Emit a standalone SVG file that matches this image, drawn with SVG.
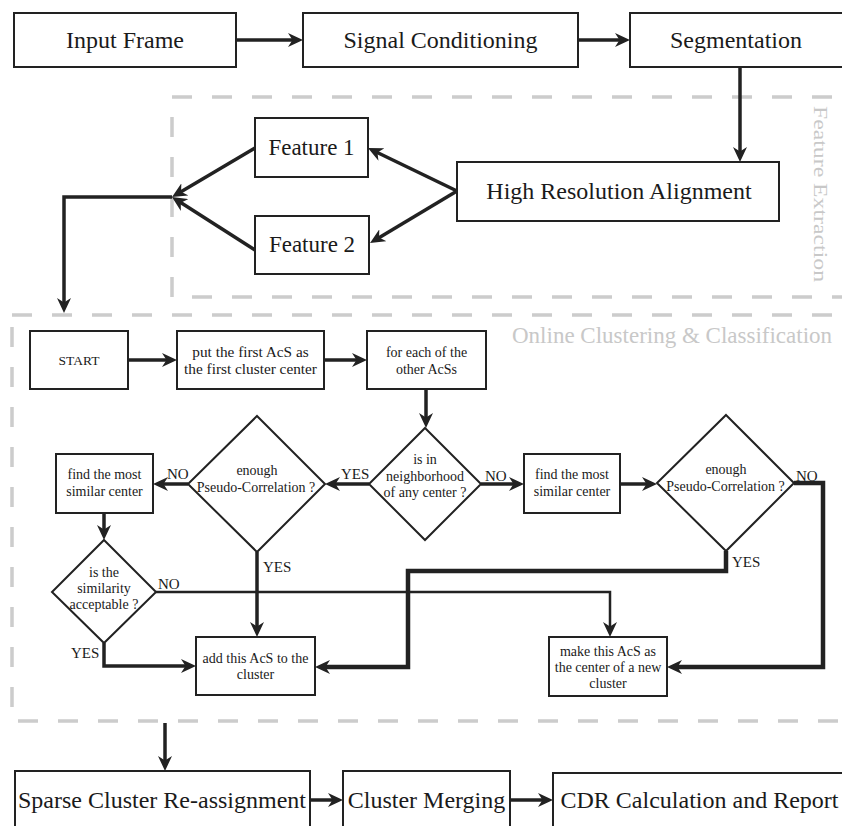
<svg xmlns="http://www.w3.org/2000/svg" width="842" height="826" viewBox="0 0 842 826">
<style>
.bg{fill:#ffffff}
.box{fill:#ffffff;stroke:#222;stroke-width:2}
.dia{fill:#ffffff;stroke:#222;stroke-width:2}
.grp{fill:none;stroke:#cccccc;stroke-width:3.5;stroke-dasharray:20 20}
.glabel{font-family:"Liberation Serif","Times New Roman",serif;fill:#c8c8c8}
.t24{font-family:"Liberation Serif","Times New Roman",serif;font-size:24px;fill:#1a1a1a;text-anchor:middle}
.t23{font-family:"Liberation Serif","Times New Roman",serif;font-size:23px;fill:#1a1a1a;text-anchor:middle}
.t14{font-family:"Liberation Serif","Times New Roman",serif;font-size:14px;fill:#1a1a1a;text-anchor:middle}
.t13{font-family:"Liberation Serif","Times New Roman",serif;font-size:13.5px;fill:#1a1a1a;text-anchor:middle}
.t15{font-family:"Liberation Serif","Times New Roman",serif;font-size:15.3px;fill:#1a1a1a;text-anchor:middle}
.lab{font-family:"Liberation Serif","Times New Roman",serif;font-size:15px;fill:#1a1a1a}
.c{fill:none;stroke:#222;stroke-width:3.5;marker-end:url(#ah)}
.cw{fill:none;stroke:#222;stroke-width:4.5;marker-end:url(#ah)}
.cn{fill:none;stroke:#222;stroke-width:2.5;marker-end:url(#ah)}
</style>
<defs>
<marker id="ah" markerUnits="userSpaceOnUse" markerWidth="16" markerHeight="14" viewBox="0 0 16 14" refX="7" refY="7" orient="auto">
<path d="M0,0 L15,7 L0,14 L4.5,7 Z" fill="#222"/>
</marker>
</defs>
<rect class="bg" x="0" y="0" width="842" height="826"/>

<g id="group-feature-extraction">
<rect class="grp" x="172" y="97" width="700" height="200"/>
<text class="glabel" style="font-size:19px" textLength="176" lengthAdjust="spacingAndGlyphs" transform="translate(814,106) rotate(90)">Feature Extraction</text>
</g>
<g id="group-online-clustering">
<rect class="grp" x="12" y="315" width="870" height="406"/>
<text class="glabel" x="512" y="343" style="font-size:23px">Online Clustering &amp; Classification</text>
</g>

<g id="connectors">
<path class="c" d="M236,40 H295"/>
<path class="c" d="M578,40 H622"/>
<path class="c" d="M740,68 V154"/>
<path class="c" d="M457,191 L375.2,151.5"/>
<path class="c" d="M457,191 L376.9,238.9"/>
<path class="c" d="M255,148 L178.9,192.9"/>
<path class="c" d="M255,250 L178.7,201.3"/>
<path class="c" d="M172,197 H64 V305"/>
<path class="c" d="M129,360 H169"/>
<path class="c" d="M324,360 H359"/>
<path class="c" d="M426,389 V420"/>
<path class="c" d="M369,484 H333"/>
<path class="c" d="M188,484 H161"/>
<path class="c" d="M104,513 V532"/>
<path class="c" d="M481,484 H516"/>
<path class="c" d="M620,484 H649"/>
<path class="cw" d="M794,483 H823 V667 H675"/>
<path class="cw" d="M726,551 V571 H408 V667 H323"/>
<path class="c" d="M257,552 V629"/>
<path class="cn" d="M156,592 H610 V629"/>
<path class="c" d="M104,643 V666 H188"/>
<path class="c" d="M165,723 V763"/>
<path class="c" d="M310,800 H335"/>
<path class="c" d="M510,800 H545"/>
</g>

<g id="input-frame"><rect class="box" x="14" y="13" width="222" height="54"/><text class="t24" x="125" y="48">Input Frame</text></g>
<g id="signal-conditioning"><rect class="box" x="303" y="13" width="275" height="54"/><text class="t24" x="440.5" y="48">Signal Conditioning</text></g>
<g id="segmentation"><rect class="box" x="630" y="13" width="215" height="54"/><text class="t24" x="736" y="48">Segmentation</text></g>
<g id="high-resolution-alignment"><rect class="box" x="457" y="162" width="322" height="59"/><text class="t24" x="619" y="199">High Resolution Alignment</text></g>
<g id="feature-1"><rect class="box" x="255" y="118" width="113" height="59"/><text class="t23" x="311.5" y="155">Feature 1</text></g>
<g id="feature-2"><rect class="box" x="255" y="216" width="114" height="58"/><text class="t23" x="312" y="252">Feature 2</text></g>

<g id="start"><rect class="box" x="30" y="331" width="98" height="58"/><text class="t13" x="79" y="365">START</text></g>
<g id="first-cluster-center"><rect class="box" x="177" y="331" width="147" height="58"/><text class="t15" x="250.5" y="357">put the first AcS as</text><text class="t15" x="250.5" y="374">the first cluster center</text></g>
<g id="for-each"><rect class="box" x="367" y="331" width="119" height="58"/><text class="t14" x="426.5" y="357">for each of the</text><text class="t14" x="426.5" y="374">other AcSs</text></g>

<g id="in-neighborhood"><polygon class="dia" points="425,428 481,484 425,540 369,484"/><text class="t14" x="425" y="464">is in</text><text class="t14" x="425" y="481">neighborhood</text><text class="t14" x="425" y="497">of any center ?</text></g>
<g id="pseudo-correlation-left"><polygon class="dia" points="257,416 325,484 257,552 188,484"/><text class="t14" x="257" y="475">enough</text><text class="t14" x="256" y="492">Pseudo-Correlation ?</text></g>
<g id="pseudo-correlation-right"><polygon class="dia" points="726,415 794,483 726,551 657,483"/><text class="t14" x="726" y="474">enough</text><text class="t14" x="725.5" y="491">Pseudo-Correlation ?</text></g>
<g id="most-similar-left"><rect class="box" x="56" y="454" width="97" height="59"/><text class="t14" x="104.5" y="479">find the most</text><text class="t14" x="104.5" y="496">similar center</text></g>
<g id="most-similar-right"><rect class="box" x="524" y="454" width="96" height="59"/><text class="t14" x="572" y="479">find the most</text><text class="t14" x="572" y="496">similar center</text></g>
<g id="similarity-acceptable"><polygon class="dia" points="104,540 156,592 104,643 52,592"/><text class="t14" x="104" y="577">is the</text><text class="t14" x="104" y="593">similarity</text><text class="t14" x="104" y="609">acceptable ?</text></g>
<g id="add-to-cluster"><rect class="box" x="196" y="637" width="119" height="58"/><text class="t14" x="255.5" y="663">add this AcS to the</text><text class="t14" x="255.5" y="679">cluster</text></g>
<g id="new-cluster-center"><rect class="box" x="549" y="637" width="118" height="59"/><text class="t14" x="608" y="656">make this AcS as</text><text class="t14" x="608" y="672">the center of a new</text><text class="t14" x="608" y="688">cluster</text></g>

<g id="edge-labels">
<text class="lab" x="341" y="479">YES</text>
<text class="lab" x="167" y="479">NO</text>
<text class="lab" x="485" y="481">NO</text>
<text class="lab" x="796" y="481">NO</text>
<text class="lab" x="263" y="572">YES</text>
<text class="lab" x="732" y="567">YES</text>
<text class="lab" x="158" y="589">NO</text>
<text class="lab" x="71" y="658">YES</text>
</g>

<g id="sparse-cluster"><rect class="box" x="15" y="771" width="295" height="70"/><text class="t24" x="162" y="808">Sparse Cluster Re-assignment</text></g>
<g id="cluster-merging"><rect class="box" x="343" y="771" width="167" height="70"/><text class="t24" x="426.5" y="808">Cluster Merging</text></g>
<g id="cdr-report"><rect class="box" x="553" y="773" width="300" height="70"/><text class="t24" x="699.5" y="808">CDR Calculation and Report</text></g>
</svg>
